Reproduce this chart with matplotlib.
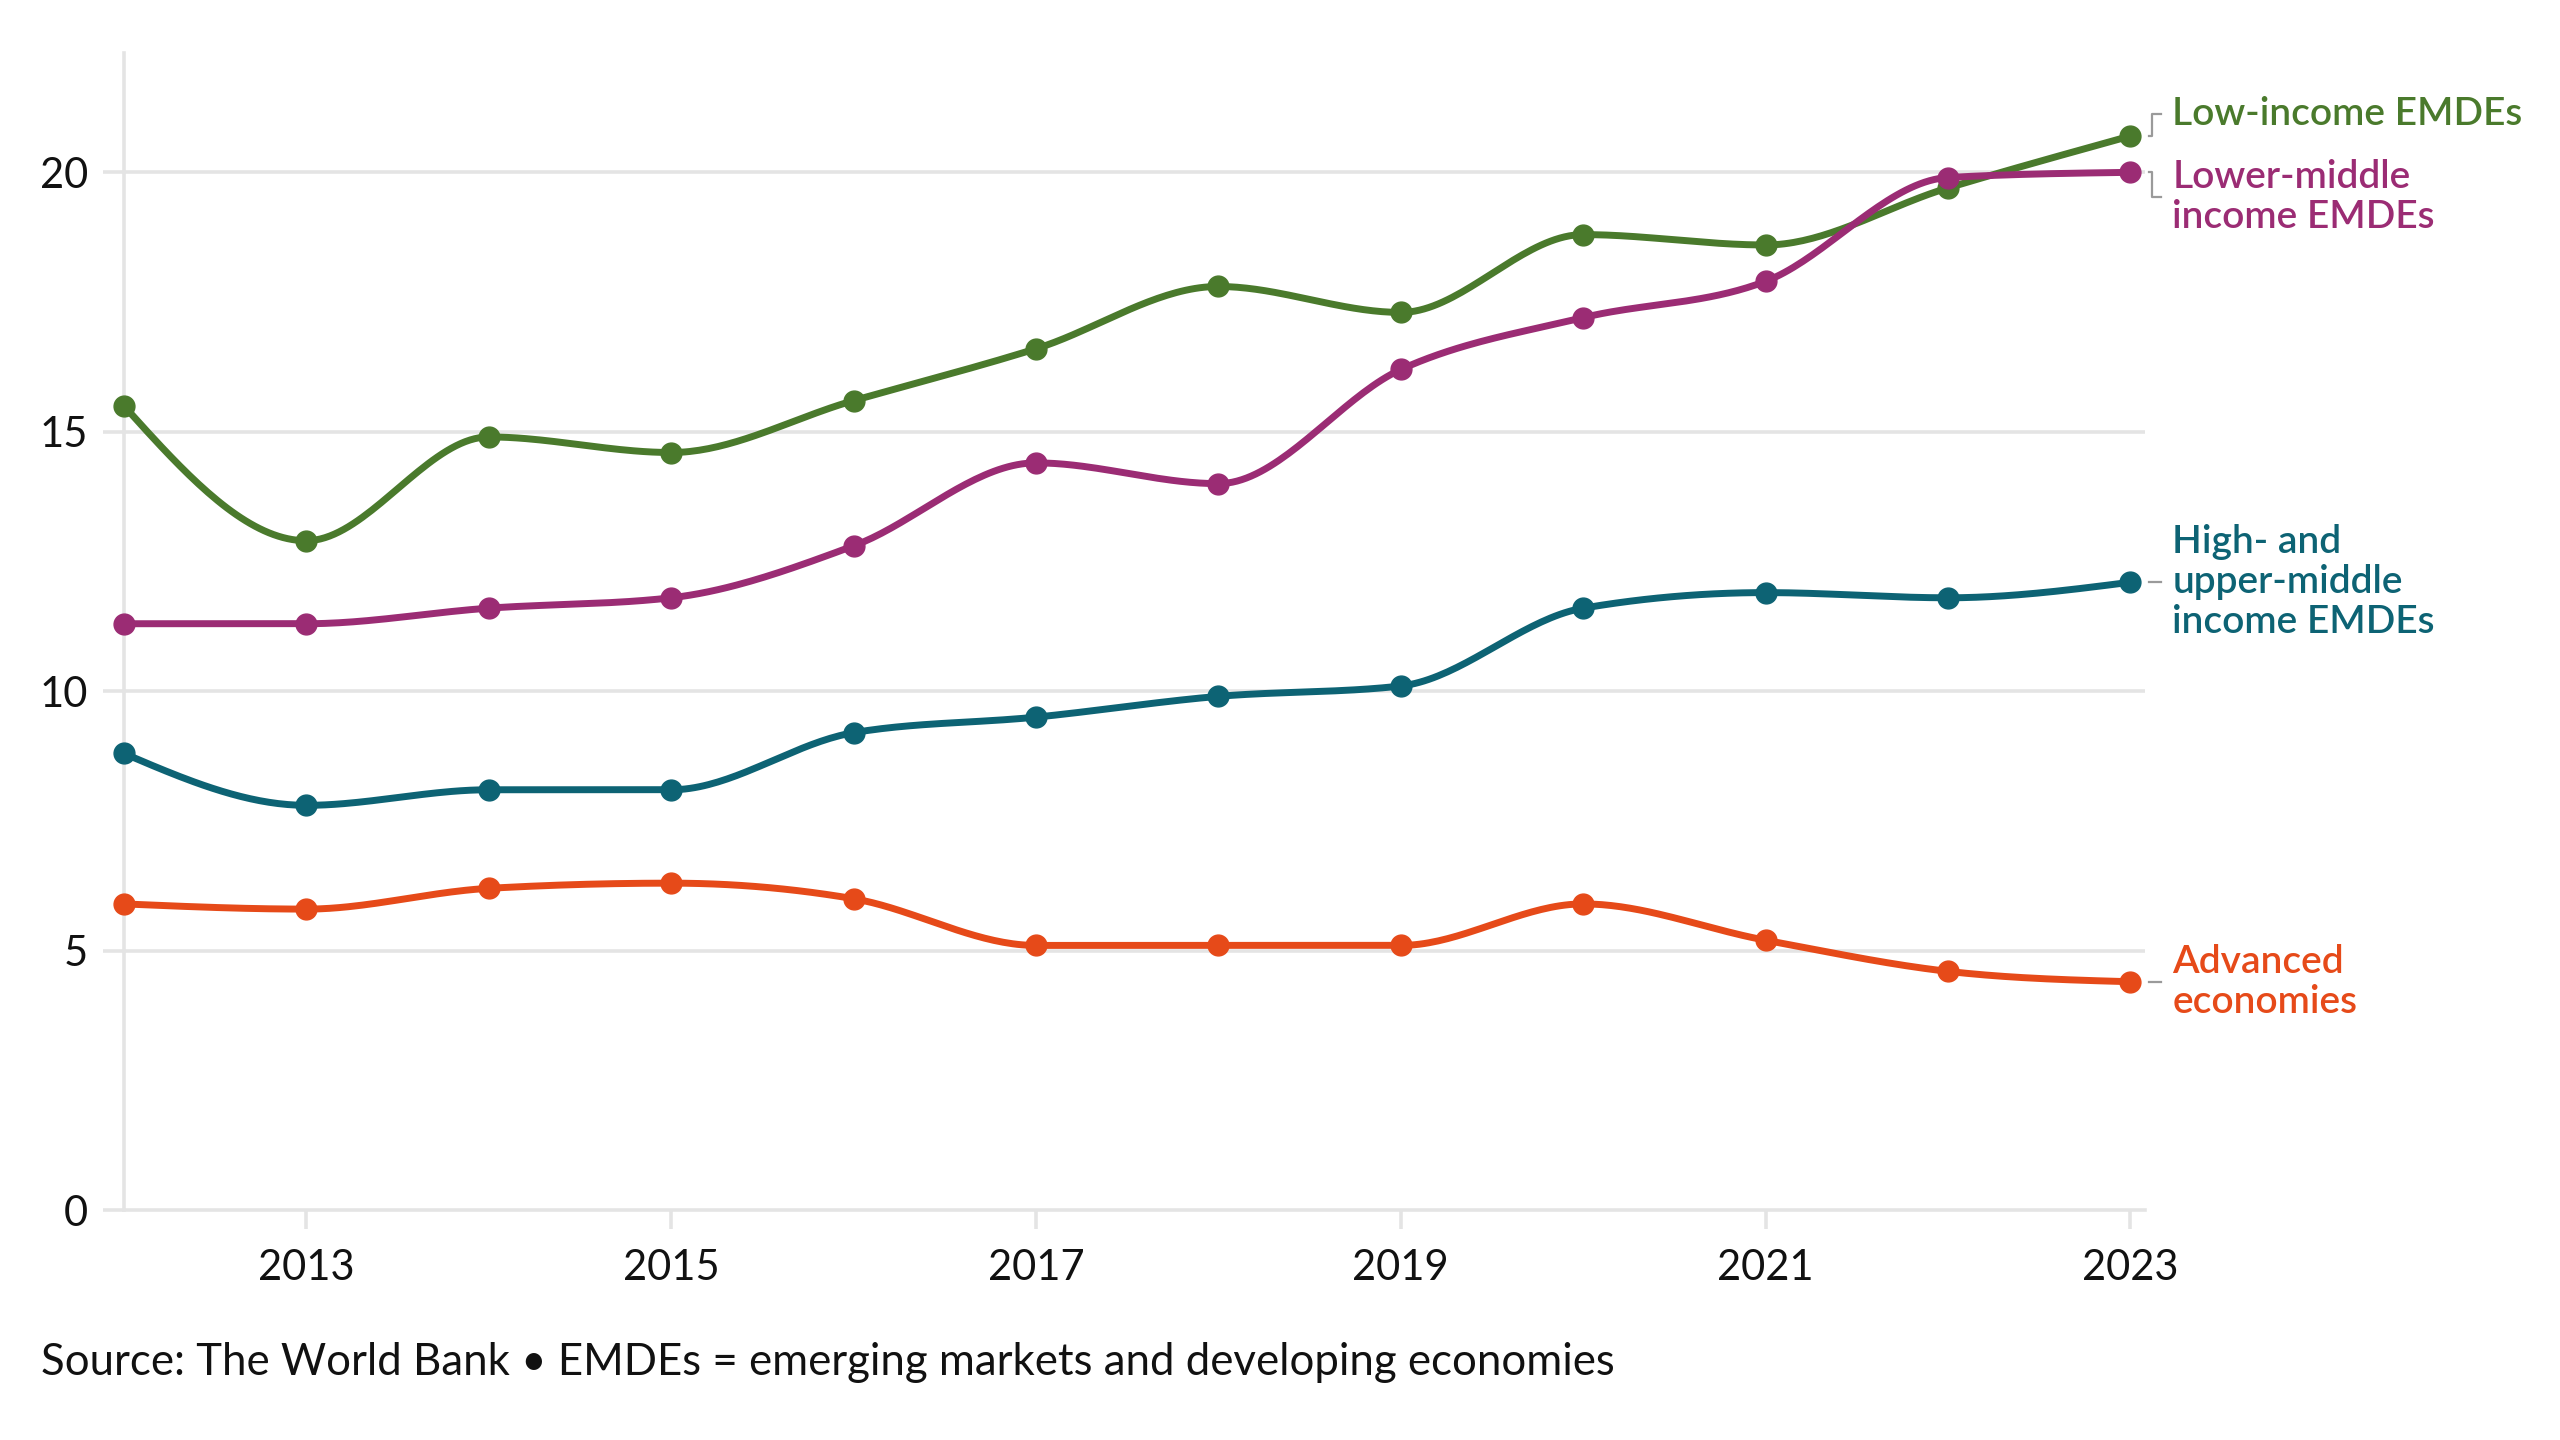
import numpy as np
import matplotlib
matplotlib.use("Agg")
import matplotlib.pyplot as plt

plt.rcParams['font.family'] = ['Lato', 'DejaVu Sans']

years = np.arange(2012, 2024)

low_income = [15.5, 12.9, 14.9, 14.6, 15.6, 16.6, 17.8, 17.3, 18.8, 18.6, 19.7, 20.7]
lower_middle = [11.3, 11.3, 11.6, 11.8, 12.8, 14.4, 14.0, 16.2, 17.2, 17.9, 19.9, 20.0]
high_upper = [8.8, 7.8, 8.1, 8.1, 9.2, 9.5, 9.9, 10.1, 11.6, 11.9, 11.8, 12.1]
advanced = [5.9, 5.8, 6.2, 6.3, 6.0, 5.1, 5.1, 5.1, 5.9, 5.2, 4.6, 4.4]

series_names = ["Low-income EMDEs", "Lower-middle\nincome EMDEs",
                "High- and\nupper-middle\nincome EMDEs", "Advanced\neconomies"]
colors = ["#4a7a2c", "#9b2c74", "#0d6374", "#e64a19"]
# vertical shift of each label from its last point (in y units)
label_shift = [0.42, -0.48, 0.0, 0.0]

x_ticks = [2013, 2015, 2017, 2019, 2021, 2023]
y_ticks = [0, 5, 10, 15, 20]


def monotone_curve(x, y, n=40):
    # monotone cubic (like d3.curveMonotoneX), only for drawing the smooth line
    x = np.asarray(x, float)
    y = np.asarray(y, float)
    h = np.diff(x)
    s = np.diff(y) / h
    m = np.zeros(len(x))
    for i in range(1, len(x) - 1):
        p = (s[i-1] * h[i] + s[i] * h[i-1]) / (h[i-1] + h[i])
        m[i] = (np.sign(s[i-1]) + np.sign(s[i])) * min(abs(s[i-1]), abs(s[i]), 0.5 * abs(p))
    m[0] = (3 * s[0] - m[1]) / 2
    m[-1] = (3 * s[-1] - m[-2]) / 2
    xs, ys = [], []
    for i in range(len(x) - 1):
        t = np.linspace(0, 1, n)
        h00 = 2*t**3 - 3*t**2 + 1
        h10 = t**3 - 2*t**2 + t
        h01 = -2*t**3 + 3*t**2
        h11 = t**3 - t**2
        xs.append(x[i] + t * h[i])
        ys.append(h00*y[i] + h10*h[i]*m[i] + h01*y[i+1] + h11*h[i]*m[i+1])
    return np.concatenate(xs), np.concatenate(ys)


fig = plt.figure(figsize=(25.6, 14.4), dpi=100)
ax = fig.add_axes([0.0484, 0.1597, 0.7895, 0.8035])

grid_col = "#e4e4e4"
for yv in y_ticks[1:]:
    ax.axhline(yv, color=grid_col, lw=2.6, zorder=0, xmin=0, xmax=1)

all_series = [low_income, lower_middle, high_upper, advanced]
for vals, col, name, dy in zip(all_series, colors, series_names, label_shift):
    cx, cy = monotone_curve(years, vals)
    ax.plot(cx, cy, color=col, lw=5, solid_capstyle='round', zorder=3, clip_on=False)
    ax.plot(years, vals, 'o', color=col, ms=15, zorder=4, clip_on=False)
    last = vals[-1]
    # small grey connector between last point and label
    xa, xb, xc = years[-1] + 0.10, years[-1] + 0.12, years[-1] + 0.165
    if dy == 0:
        ax.plot([xa, xc], [last, last], color="#9a9a9a", lw=1.6, clip_on=False)
    else:
        ax.plot([xa, xb, xb, xc], [last, last, last + dy, last + dy],
                color="#9a9a9a", lw=1.6, clip_on=False)
    ax.text(years[-1] + 0.23, last + dy, name, color=col, fontsize=28,
            fontweight='semibold', va='center', ha='left', linespacing=1.14)

ax.set_xlim(2012, 2023.08)
ax.set_ylim(0, 22.3)
ax.set_xticks(x_ticks)
ax.set_yticks(y_ticks)
ax.set_xticklabels([str(v) for v in x_ticks])
ax.set_yticklabels([str(v) for v in y_ticks])

for side in ['top', 'right']:
    ax.spines[side].set_visible(False)
for side in ['left', 'bottom']:
    ax.spines[side].set_color(grid_col)
    ax.spines[side].set_linewidth(2.6)

ax.tick_params(axis='x', length=14, width=2.6, color=grid_col, pad=14,
               labelsize=30, labelcolor="#111111")
ax.tick_params(axis='y', length=15, width=2.6, color=grid_col, pad=11,
               labelsize=30, labelcolor="#111111")

fig.text(0.016, 0.054, "Source: The World Bank \u2022 EMDEs = emerging markets and developing economies",
         fontsize=31.5, color="#111111", va='center', ha='left')

fig.savefig("out.png", dpi=100, facecolor="white")
